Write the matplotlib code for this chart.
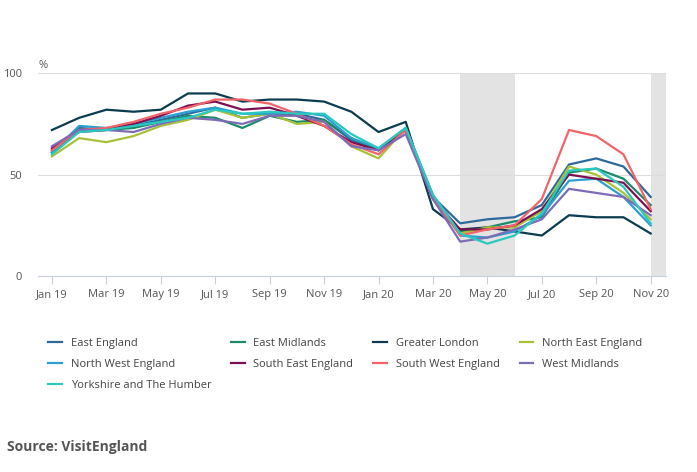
import matplotlib.pyplot as plt
import numpy as np

months = ['Jan 19', 'Feb 19', 'Mar 19', 'Apr 19', 'May 19', 'Jun 19', 'Jul 19', 'Aug 19',
          'Sep 19', 'Oct 19', 'Nov 19', 'Dec 19', 'Jan 20', 'Feb 20', 'Mar 20', 'Apr 20',
          'May 20', 'Jun 20', 'Jul 20', 'Aug 20', 'Sep 20', 'Oct 20', 'Nov 20']

east_england = [62, 73, 72, 74, 77, 80, 83, 78, 80, 80, 77, 67, 62, 73, 39, 26, 28, 29, 35, 55, 58, 54, 39]
east_midlands = [61, 72, 72, 73, 76, 79, 78, 73, 79, 76, 77, 68, 62, 72, 39, 22, 24, 27, 29, 51, 53, 48, 35]
greater_london = [72, 78, 82, 81, 82, 90, 90, 86, 87, 87, 86, 81, 71, 76, 33, 23, 24, 22, 20, 30, 29, 29, 21]
north_east = [59, 68, 66, 69, 74, 77, 82, 78, 80, 75, 76, 64, 58, 73, 38, 21, 24, 24, 32, 54, 50, 41, 28]
north_west = [61, 74, 73, 75, 78, 81, 83, 80, 80, 81, 79, 68, 63, 73, 40, 20, 19, 22, 30, 47, 48, 39, 25]
south_east = [63, 71, 72, 75, 79, 84, 86, 82, 83, 79, 74, 66, 62, 72, 38, 23, 23, 25, 33, 50, 48, 46, 32]
south_west = [62, 72, 73, 76, 80, 83, 87, 87, 85, 80, 74, 65, 60, 72, 39, 20, 23, 25, 38, 72, 69, 60, 33]
west_midlands = [64, 72, 72, 71, 75, 78, 77, 75, 79, 79, 76, 64, 62, 70, 38, 17, 19, 23, 28, 43, 41, 39, 30]
yorkshire = [60, 71, 72, 74, 76, 78, 82, 80, 81, 80, 80, 70, 63, 73, 40, 21, 16, 20, 31, 52, 53, 44, 26]

series = [
    ('East England', east_england, '#2b6a9b'),
    ('East Midlands', east_midlands, '#1b8a6b'),
    ('Greater London', greater_london, '#0b3c4f'),
    ('North East England', north_east, '#a8c238'),
    ('North West England', north_west, '#2a9fd0'),
    ('South East England', south_east, '#7c1151'),
    ('South West England', south_west, '#f2636a'),
    ('West Midlands', west_midlands, '#7d6cb5'),
    ('Yorkshire and The Humber', yorkshire, '#2ac9c0'),
]

plt.rcParams['font.family'] = ['Open Sans', 'DejaVu Sans']
fig = plt.figure(figsize=(6.97, 4.72), dpi=100)
ax = fig.add_axes([0.055, 0.415, 0.9, 0.43])

x = np.arange(len(months))
ax.axvspan(15, 17, color='#e3e3e3', lw=0, zorder=0)
ax.axvspan(22, 22.55, color='#e3e3e3', lw=0, zorder=0)
lines = []
for name, vals, col in series:
    ln, = ax.plot(x, vals, color=col, lw=1.6, label=name, zorder=3)
    lines.append(ln)

ax.set_xlim(-0.5, 22.55)
ax.set_ylim(0, 100)
ax.set_yticks([0, 50, 100])
ax.grid(axis='y', color='#dddddd', lw=0.8)
ax.set_axisbelow(True)
ax.set_xticks(x[::2])
ax.set_xticklabels(months[::2])
ax.tick_params(axis='x', length=6, color='#c8d0dc', labelsize=8, labelcolor='#555555')
ax.tick_params(axis='y', length=0, labelsize=8, labelcolor='#555555', pad=12)
for s in ['top', 'right', 'left']:
    ax.spines[s].set_visible(False)
ax.spines['bottom'].set_color('#c8d0dc')
ax.text(0.0, 1.025, '%', transform=ax.transAxes, fontsize=8, color='#555555')

# legend fills row by row in the reference
order = [0, 4, 8, 1, 5, 2, 6, 3, 7]
fig.legend([lines[i] for i in order], [series[i][0] for i in order],
           loc='upper left', bbox_to_anchor=(0.055, 0.305), ncol=4, frameon=False,
           fontsize=8, handlelength=1.2, columnspacing=1.8, labelcolor='#444444',
           labelspacing=0.9)
fig.text(0.01, 0.045, 'Source: VisitEngland', fontsize=10, fontweight='bold', color='#555555')

fig.savefig('out.png', dpi=100)
